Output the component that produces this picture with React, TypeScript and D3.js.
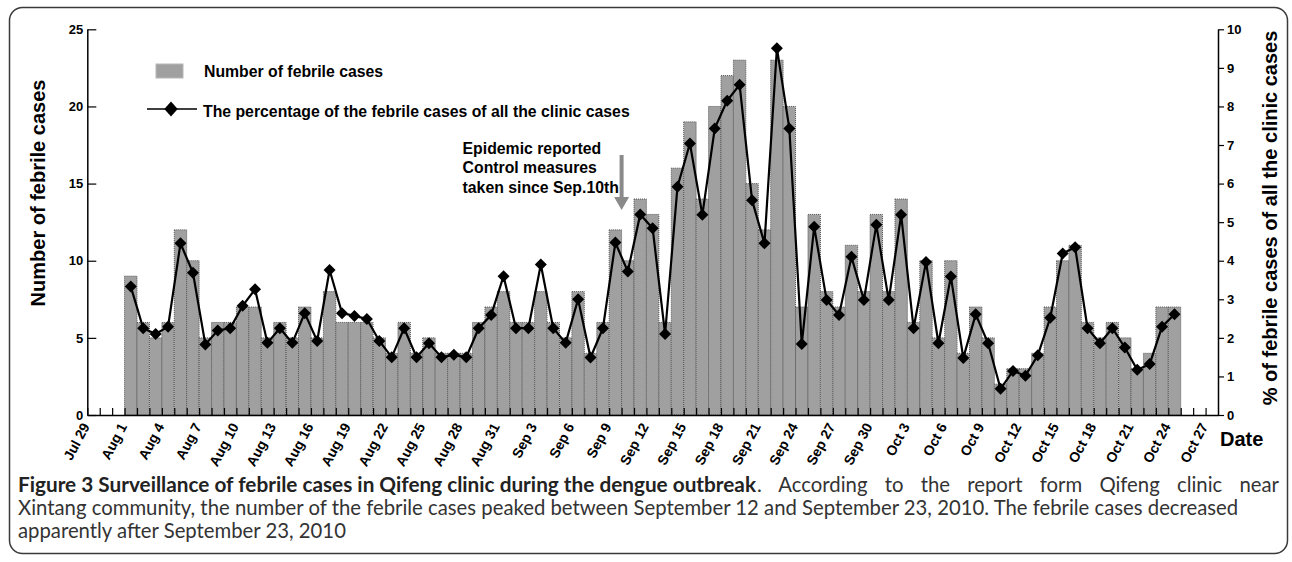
import { useEffect, useRef } from "react";
import * as d3 from "d3";

// daily data, Aug 1 .. Oct 24, 2010
const firstDay = new Date(2010, 7, 1);
const axisStart = new Date(2010, 6, 29);
const axisEnd = new Date(2010, 9, 28);
const reportDay = new Date(2010, 8, 10);

const febrileCases = [
  // Aug
  9, 6, 5, 6, 12, 10, 5, 6, 6, 7, 7, 5, 6, 5, 7, 5, 8, 6, 6, 6, 5, 4, 6, 4, 5, 4, 4, 4, 6, 7, 8,
  // Sep
  6, 6, 8, 6, 5, 8, 4, 6, 12, 10, 14, 13, 6, 16, 19, 14, 20, 22, 23, 15, 12, 23, 20, 7, 13, 8, 7, 11, 8, 13,
  // Oct
  8, 14, 6, 10, 5, 10, 4, 7, 5, 2, 3, 3, 4, 7, 10, 11, 6, 5, 6, 5, 3, 4, 7, 7,
];

const febrilePercent = [
  // Aug
  3.33, 2.25, 2.1, 2.29, 4.45, 3.69, 1.83, 2.19, 2.25, 2.83, 3.26, 1.87, 2.25, 1.87, 2.64, 1.92,
  3.76, 2.64, 2.57, 2.49, 1.92, 1.5, 2.25, 1.5, 1.86, 1.5, 1.56, 1.5, 2.25, 2.59, 3.6,
  // Sep
  2.25, 2.25, 3.9, 2.25, 1.87, 3.0, 1.49, 2.25, 4.47, 3.72, 5.2, 4.84, 2.1, 5.92, 7.04, 5.19,
  7.43, 8.15, 8.56, 5.57, 4.45, 9.51, 7.43, 1.84, 4.88, 2.98, 2.59, 4.1, 2.98, 4.93,
  // Oct
  2.98, 5.19, 2.25, 3.97, 1.86, 3.59, 1.48, 2.61, 1.86, 0.68, 1.14, 1.02, 1.55, 2.52, 4.19, 4.35,
  2.25, 1.86, 2.25, 1.75, 1.17, 1.32, 2.29, 2.61,
];

const caseTicks = [0, 5, 10, 15, 20, 25];
const percentTicks = [0, 1, 2, 3, 4, 5, 6, 7, 8, 9, 10];

const legendBars = "Number of febrile cases";
const legendLine = "The percentage of the febrile cases of all the clinic cases";
const annotation = ["Epidemic reported", "Control measures", "taken since Sep.10th"];
const leftTitle = "Number of febrile cases";
const rightTitle = "% of febrile cases of all the clinic cases";

const captionBold = "Figure 3 Surveillance of febrile cases in Qifeng clinic during the dengue outbreak";
const captionRest = [
  ". According to the report form Qifeng clinic near",
  "Xintang community, the number of the febrile cases peaked between September 12 and September 23, 2010. The febrile cases decreased",
  "apparently after September 23, 2010",
];

const FONT = "'Liberation Sans', Arial, sans-serif";

export default function App() {
  const ref = useRef<SVGSVGElement | null>(null);

  useEffect(() => {
    const svg = d3.select(ref.current);
    svg.selectAll("*").remove();

    const left = 87.3, right = 1218, top = 29.3, bottom = 415;

    const x = d3.scaleTime().domain([axisStart, axisEnd]).range([left, right]);
    const y = d3.scaleLinear().domain([0, 25]).range([bottom, top]);
    const y2 = d3.scaleLinear().domain([0, 10]).range([bottom, top]);

    const days = febrileCases.map((_, i) => d3.timeDay.offset(firstDay, i));
    const dayW = (d: Date) => x(d3.timeDay.offset(d, 1)) - x(d);

    // frame
    svg.append("rect")
      .attr("x", 9.5).attr("y", 7.5)
      .attr("width", 1278).attr("height", 546)
      .attr("rx", 13)
      .attr("fill", "none")
      .attr("stroke", "#3a3a3a")
      .attr("stroke-width", 1.5);

    // bars
    svg.append("g")
      .selectAll("rect")
      .data(febrileCases)
      .enter()
      .append("rect")
      .attr("x", (d, i) => x(days[i]))
      .attr("y", (d) => y(d))
      .attr("width", (d, i) => dayW(days[i]))
      .attr("height", (d) => bottom - y(d))
      .attr("fill", "#a0a0a0")
      .attr("stroke", "#555")
      .attr("stroke-width", 1)
      .attr("stroke-dasharray", "1 1");

    // x axis: day ticks pointing up
    const xTicks = svg.append("g")
      .attr("transform", "translate(0," + bottom + ")")
      .call(
        d3.axisBottom(x)
          .tickValues(d3.timeDay.range(axisStart, axisEnd))
          .tickSizeInner(-7)
          .tickSizeOuter(0)
          .tickFormat(() => "")
      );
    xTicks.select(".domain").attr("stroke", "#000").attr("stroke-width", 1.5);
    xTicks.selectAll(".tick line").attr("stroke", "#000").attr("stroke-width", 1.2);

    // x labels every 3 days
    const fmt = d3.timeFormat("%b %-d");
    const xLabels = svg.append("g")
      .attr("transform", "translate(0," + bottom + ")")
      .call(
        d3.axisBottom(x)
          .tickValues(d3.timeDay.range(axisStart, axisEnd, 3))
          .tickSize(0)
          .tickFormat((d) => fmt(d as Date))
      );
    xLabels.select(".domain").remove();
    xLabels.attr("font-size", 14).attr("font-family", FONT).attr("font-weight", "bold");
    xLabels.selectAll("text")
      .attr("x", 0).attr("y", 0).attr("dy", "0.35em")
      .attr("transform", "translate(-2,9) rotate(-62)")
      .attr("text-anchor", "end")
      .attr("fill", "#000");

    // percentage line
    const cx = (i: number) => x(days[i]) + dayW(days[i]) / 2;
    const line = d3.line<number>()
      .x((d, i) => cx(i))
      .y((d) => y2(d));
    svg.append("path")
      .datum(febrilePercent)
      .attr("d", line)
      .attr("fill", "none")
      .attr("stroke", "#000")
      .attr("stroke-width", 2.2);

    svg.append("g")
      .selectAll("path")
      .data(febrilePercent)
      .enter()
      .append("path")
      .attr("d", "M0,-6L6,0L0,6L-6,0Z")
      .attr("transform", (d, i) => "translate(" + cx(i) + "," + y2(d) + ")")
      .attr("fill", "#000");

    // left axis
    const yAxis = svg.append("g")
      .attr("transform", "translate(" + left + ",0)")
      .call(d3.axisLeft(y).tickValues(caseTicks).tickSizeInner(-9).tickSizeOuter(0).tickPadding(4));
    yAxis.attr("font-size", 13).attr("font-family", FONT).attr("font-weight", "bold");
    yAxis.select(".domain").attr("stroke", "#000").attr("stroke-width", 1.5);
    yAxis.selectAll(".tick line").attr("stroke", "#000").attr("stroke-width", 1.2);
    yAxis.selectAll("text").attr("fill", "#000");

    // right axis
    const yAxis2 = svg.append("g")
      .attr("transform", "translate(" + right + ",0)")
      .call(d3.axisRight(y2).tickValues(percentTicks).tickSizeInner(6).tickSizeOuter(0).tickPadding(3));
    yAxis2.attr("font-size", 13).attr("font-family", FONT).attr("font-weight", "bold");
    yAxis2.select(".domain").attr("stroke", "#000").attr("stroke-width", 1.5);
    yAxis2.selectAll(".tick line").attr("stroke", "#000").attr("stroke-width", 1.2);
    yAxis2.selectAll("text").attr("fill", "#000");

    // axis titles
    svg.append("text")
      .attr("transform", "translate(45,193) rotate(-90)")
      .attr("text-anchor", "middle")
      .style("font-family", FONT).style("font-weight", "bold").style("font-size", "20px")
      .text(leftTitle);

    svg.append("text")
      .attr("transform", "translate(1277,218) rotate(-90)")
      .attr("text-anchor", "middle")
      .style("font-family", FONT).style("font-weight", "bold").style("font-size", "20px")
      .text(rightTitle);

    svg.append("text")
      .attr("x", 1220).attr("y", 446)
      .style("font-family", FONT).style("font-weight", "bold").style("font-size", "20px")
      .text("Date");

    // legend
    svg.append("rect")
      .attr("x", 156).attr("y", 64).attr("width", 27).attr("height", 14)
      .attr("fill", "#a0a0a0").attr("stroke", "#b8b8b8");
    svg.append("text")
      .attr("x", 204).attr("y", 77)
      .style("font-family", FONT).style("font-weight", "bold").style("font-size", "15.8px")
      .text(legendBars);

    svg.append("line")
      .attr("x1", 147).attr("x2", 197).attr("y1", 109).attr("y2", 109)
      .attr("stroke", "#000").attr("stroke-width", 1.5);
    svg.append("path")
      .attr("d", "M0,-7.5L6.7,0L0,7.5L-6.7,0Z")
      .attr("transform", "translate(171,109)")
      .attr("fill", "#000");
    svg.append("text")
      .attr("x", 203).attr("y", 117)
      .style("font-family", FONT).style("font-weight", "bold").style("font-size", "15.8px")
      .text(legendLine);

    // annotation + arrow
    const ax = x(reportDay);
    svg.append("g")
      .selectAll("text")
      .data(annotation)
      .enter()
      .append("text")
      .attr("x", ax - 159)
      .attr("y", (d, i) => 154 + i * 19.4)
      .style("font-family", FONT).style("font-weight", "bold").style("font-size", "15.8px")
      .text((d) => d);

    svg.append("rect")
      .attr("x", ax - 2).attr("y", 155).attr("width", 4).attr("height", 43)
      .attr("fill", "#8a8a8a");
    svg.append("path")
      .attr("d", "M" + (ax - 7.5) + ",197L" + (ax + 7.5) + ",197L" + ax + ",210Z")
      .attr("fill", "#8a8a8a");

    // caption, sized so the second line fills its width
    const cap = svg.append("g")
      .style("font-family", "Lato, 'Noto Sans', sans-serif")
      .style("font-size", "18px")
      .attr("fill", "#333");

    const l2 = cap.append("text").attr("x", 18).attr("y", 515).text(captionRest[1]);
    const node = l2.node() as SVGTextElement;
    const w = node ? node.getComputedTextLength() : 0;
    if (w > 0) cap.style("font-size", (18 * 1221 / w).toFixed(2) + "px");

    // first line: bold title a bit narrowed, rest justified with word spacing
    cap.append("text").attr("x", 18).attr("y", 492)
      .attr("textLength", 738).attr("lengthAdjust", "spacingAndGlyphs")
      .style("font-weight", "bold").attr("fill", "#222")
      .text(captionBold);
    const rest = cap.append("text").attr("x", 757).attr("y", 492).text(captionRest[0]);
    const restNode = rest.node() as SVGTextElement;
    const rw = restNode ? restNode.getComputedTextLength() : 0;
    const gaps = captionRest[0].split(" ").length - 1;
    if (rw > 0 && gaps > 0) rest.style("word-spacing", Math.max(0, (522 - rw) / gaps).toFixed(2) + "px");

    cap.append("text").attr("x", 18).attr("y", 538).text(captionRest[2]);
  }, []);

  return (
    <svg
      ref={ref}
      width={1292}
      height={562}
      style={{ position: "absolute", left: 0, top: 0, background: "#fff" }}
    />
  );
}
